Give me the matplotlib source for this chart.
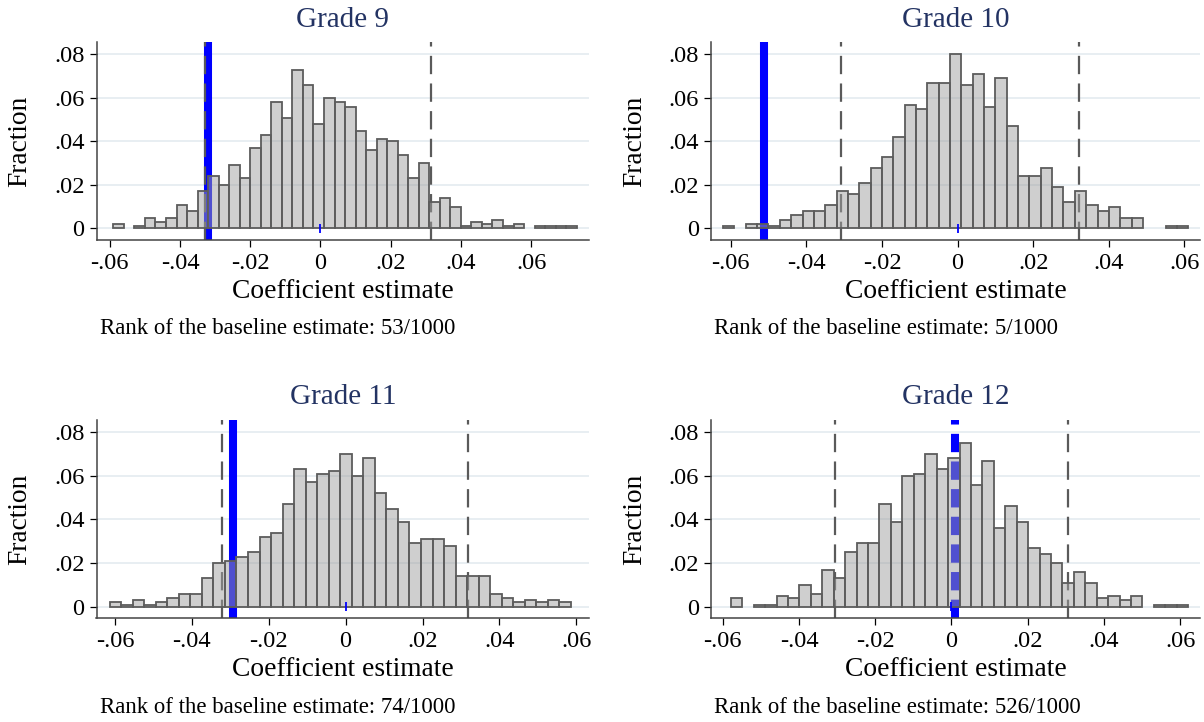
"""
Permutation test histograms of the coefficient estimate, by grade.
"""

import matplotlib.pyplot as plt
import numpy as np

# ---- data ----
grades = ["Grade 9", "Grade 10", "Grade 11", "Grade 12"]
ranks = ["53/1000", "5/1000", "74/1000", "526/1000"]

# histogram bins: first lower edge, bin width, fraction per bin
g9_start, g9_width = -0.0590, 0.0030
g9_frac = [0.002, 0.000, 0.001, 0.005, 0.003, 0.005, 0.011, 0.008, 0.017, 0.024,
           0.020, 0.029, 0.023, 0.037, 0.043, 0.058, 0.051, 0.073, 0.066, 0.048,
           0.060, 0.058, 0.056, 0.045, 0.036, 0.041, 0.040, 0.034, 0.023, 0.030,
           0.012, 0.014, 0.010, 0.001, 0.003, 0.002, 0.004, 0.001, 0.002, 0.000,
           0.001, 0.001, 0.001, 0.001]

g10_start, g10_width = -0.0620, 0.0030
g10_frac = [0.001, 0.000, 0.002, 0.002, 0.001, 0.004, 0.006, 0.008, 0.008, 0.011,
            0.017, 0.016, 0.021, 0.028, 0.033, 0.042, 0.057, 0.055, 0.067, 0.067,
            0.080, 0.066, 0.071, 0.056, 0.069, 0.047, 0.024, 0.024, 0.028, 0.019,
            0.012, 0.017, 0.011, 0.008, 0.010, 0.005, 0.005, 0.000, 0.000, 0.001,
            0.001]

g11_start, g11_width = -0.0614, 0.0030
g11_frac = [0.002, 0.001, 0.003, 0.001, 0.002, 0.004, 0.006, 0.006, 0.013, 0.020,
            0.021, 0.023, 0.025, 0.032, 0.034, 0.047, 0.063, 0.057, 0.061, 0.062,
            0.070, 0.060, 0.068, 0.052, 0.045, 0.039, 0.029, 0.031, 0.031, 0.028,
            0.014, 0.014, 0.014, 0.006, 0.004, 0.002, 0.003, 0.002, 0.003, 0.002]

g12_start, g12_width = -0.0579, 0.0030
g12_frac = [0.004, 0.000, 0.001, 0.001, 0.005, 0.004, 0.010, 0.006, 0.017, 0.013,
            0.025, 0.029, 0.029, 0.047, 0.039, 0.060, 0.061, 0.070, 0.063, 0.068,
            0.075, 0.056, 0.067, 0.036, 0.046, 0.039, 0.027, 0.024, 0.020, 0.011,
            0.016, 0.011, 0.004, 0.005, 0.003, 0.005, 0.000, 0.001, 0.001, 0.001]

# baseline estimate and the 2.5 / 97.5 percentiles of the permuted estimates
baseline = [-0.0320, -0.0511, -0.0293, 0.0009]
ci_low = [-0.0328, -0.0307, -0.0322, -0.0305]
ci_high = [0.0315, 0.0321, 0.0317, 0.0306]

hists = [
    (g9_start, g9_width, g9_frac),
    (g10_start, g10_width, g10_frac),
    (g11_start, g11_width, g11_frac),
    (g12_start, g12_width, g12_frac),
]

x_ticks = [-0.06, -0.04, -0.02, 0.0, 0.02, 0.04, 0.06]
y_ticks = [0.0, 0.02, 0.04, 0.06, 0.08]

# ---- layout (pixels of a 1204x722 canvas) ----
W, H, DPI = 1204, 722, 100
xlims = [(-0.0638, 0.0765), (-0.0652, 0.0641), (-0.0648, 0.0633), (-0.0631, 0.0652)]
ylim = (-0.0053, 0.0856)
col_left = [96.5, 711.0]
col_right = [589.0, 1200.0]
row_top = [42.3, 420.0]
row_bottom = [240.0, 618.3]

FONT = "Liberation Serif"
plt.rcParams["font.family"] = [FONT, "DejaVu Serif"]
plt.rcParams["lines.scale_dashes"] = False

TITLE_COLOR = "#233363"
GRID_COLOR = "#e8eef2"
DASH = (0, (13.2, 6.7))


def stata_fmt(v):
    if abs(v) < 1e-12:
        return "0"
    return f"{v:.2f}".replace("0.", ".", 1)


def fx(px):
    return px / W


def fy(py):
    return 1 - py / H


fig = plt.figure(figsize=(W / DPI, H / DPI), dpi=DPI)

for i, (grade, rank) in enumerate(zip(grades, ranks)):
    r, c = divmod(i, 2)
    left, right = col_left[c], col_right[c]
    top, bottom = row_top[r], row_bottom[r]
    ax = fig.add_axes([fx(left), fy(bottom), fx(right - left), (bottom - top) / H])

    start, width, frac = hists[i]
    frac = np.array(frac)
    edges = start + width * np.arange(len(frac))
    keep = frac > 0

    # grid
    for yt in y_ticks:
        ax.axhline(yt, color=GRID_COLOR, lw=1.4, zorder=0)

    # baseline estimate (under the bars, which are half transparent)
    ls = DASH if i == 3 else "-"
    ax.axvline(baseline[i], color="blue", lw=5.8, ls=ls, zorder=1)

    # percentile lines
    for xv in (ci_low[i], ci_high[i]):
        ax.axvline(xv, color="#5a5a5a", lw=1.6, ls=DASH, zorder=1.5)

    ax.bar(edges[keep], frac[keep], width=width, align="edge",
           facecolor=(0.627, 0.627, 0.627, 0.5), edgecolor="#5c5c5c",
           linewidth=1.3, zorder=2)

    # small marker at zero
    ax.vlines(0.0, -0.002, 0.002, color="blue", lw=1.3, zorder=3)

    ax.set_xlim(xlims[i])
    ax.set_ylim(ylim)
    ax.set_xticks(x_ticks)
    ax.set_yticks(y_ticks)
    ax.set_xticklabels([stata_fmt(v) for v in x_ticks])
    ax.set_yticklabels([stata_fmt(v) for v in y_ticks])
    ax.tick_params(axis="both", length=5, width=0.9, color="black",
                   labelsize=17.6, pad=3.5)
    ax.tick_params(axis="x", pad=4.5)
    for side in ("top", "right"):
        ax.spines[side].set_visible(False)
    for side in ("left", "bottom"):
        ax.spines[side].set_color("#444444")
        ax.spines[side].set_linewidth(1.1)

    # texts
    xc = (left + right) / 2
    fig.text(fx(xc), fy(top - 15.6), grade, ha="center", va="baseline",
             fontsize=21, color=TITLE_COLOR)
    fig.text(fx(xc), fy(bottom + 58), "Coefficient estimate", ha="center",
             va="baseline", fontsize=19.8)
    fig.text(fx(left - 76.5), fy((top + bottom) / 2), "Fraction", rotation=90,
             ha="center", va="center", fontsize=19.8)
    fig.text(fx(left + 3.5), fy(bottom + 94.3),
             f"Rank of the baseline estimate: {rank}", ha="left",
             va="baseline", fontsize=16.4)

fig.savefig("out.png", dpi=DPI, facecolor="white")
